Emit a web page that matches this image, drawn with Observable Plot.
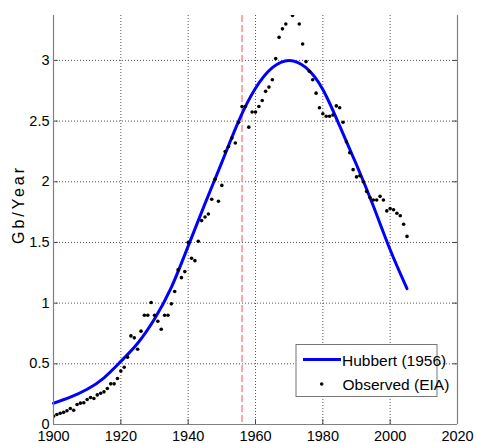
<!DOCTYPE html>
<html><head><meta charset="utf-8">
<script src="https://cdn.jsdelivr.net/npm/d3@7"></script>
<script src="https://cdn.jsdelivr.net/npm/@observablehq/plot@0.6"></script>
<style>body{margin:0;background:#fff} #chart svg{display:block}</style>
</head><body><div id="chart"></div>
<script>
// Observed (EIA) production, Gb/year, one value per year starting 1900
const obsStartYear = 1900;
const obsValues = [
  0.069, 0.082, 0.093, 0.100, 0.113, 0.132, 0.118, 0.165, 0.176, 0.179, // 1900-1909
  0.206, 0.222, 0.214, 0.244, 0.258, 0.269, 0.297, 0.335, 0.335, 0.379, // 1910-1919
  0.440, 0.472, 0.555, 0.730, 0.714, 0.620, 0.769, 0.900, 0.900, 1.005, // 1920-1929
  0.900, 0.851, 0.785, 0.900, 0.900, 0.994, 1.096, 1.274, 1.210, 1.260, // 1930-1939
  1.500, 1.370, 1.350, 1.510, 1.680, 1.710, 1.735, 1.856, 2.020, 1.840, // 1940-1949
  1.970, 2.250, 2.290, 2.360, 2.320, 2.490, 2.620, 2.620, 2.450, 2.575, // 1950-1959
  2.575, 2.620, 2.670, 2.745, 2.780, 2.840, 3.015, 3.190, 3.260, 3.300, // 1960-1969
  3.520, 3.370, 3.460, 3.300, 3.135, 2.990, 2.910, 2.840, 2.730, 2.610, // 1970-1979
  2.560, 2.540, 2.540, 2.550, 2.625, 2.610, 2.490, 2.330, 2.240, 2.100, // 1980-1989
  2.040, 2.050, 2.000, 1.920, 1.870, 1.850, 1.850, 1.880, 1.850, 1.760, // 1990-1999
  1.780, 1.770, 1.740, 1.720, 1.650, 1.550                              // 2000-2005
];
// Hubbert (1956) curve, read every 5 years
const hubYears  = [1900, 1905, 1910, 1915, 1920, 1925, 1930, 1935, 1940, 1945, 1950,
                   1955, 1960, 1965, 1970, 1975, 1980, 1985, 1990, 1995, 2000, 2005];
const hubValues = [0.175, 0.225, 0.29, 0.385, 0.52, 0.67, 0.87, 1.13, 1.47, 1.82, 2.16,
                   2.50, 2.77, 2.94, 3.00, 2.94, 2.76, 2.46, 2.14, 1.80, 1.44, 1.12];
const markerYear = 1956;
const xTicks = [1900, 1920, 1940, 1960, 1980, 2000, 2020];
const yTicks = [0, 0.5, 1, 1.5, 2, 2.5, 3];
const yTickLabels = ["0", "0.5", "1", "1.5", "2", "2.5", "3"];
const seriesNames = ["Hubbert (1956)", "Observed (EIA)"];
const yLabel = "Gb/Year";

const obs = obsValues.map((v, i) => ({year: obsStartYear + i, value: v}));
const hub = hubYears.map((y, i) => ({year: y, value: hubValues[i]}));

const font = "'Liberation Sans', Arial, Helvetica, sans-serif";
const gridStyle = {stroke: "#555", strokeWidth: 1, strokeDasharray: "1,2"};
const axisColor = "#808080";

const chart = Plot.plot({
  width: 477, height: 443,
  marginLeft: 53, marginRight: 20, marginTop: 15, marginBottom: 19,
  style: {fontFamily: font, fontSize: "14.5px", color: "#000", background: "#fff", overflow: "visible"},
  x: {domain: [1900, 2020], ticks: xTicks, tickFormat: d => String(d), tickSize: 0, tickPadding: 6, label: null},
  y: {domain: [0, 3.37], ticks: yTicks, tickFormat: d => yTickLabels[yTicks.indexOf(d)], tickSize: 0, tickPadding: 4, label: null},
  marks: [
    Plot.ruleX(xTicks.slice(1, -1), gridStyle),
    Plot.ruleY(yTicks.slice(1), gridStyle),
    Plot.ruleX([markerYear], {stroke: "#ff8a8a", strokeWidth: 1.5, strokeDasharray: "7,3"}),
    Plot.line(hub, {x: "year", y: "value", stroke: "#0000ff", strokeWidth: 3, curve: "natural"}),
    Plot.dot(obs, {x: "year", y: "value", r: 1.8, fill: "#000", stroke: "none", clip: true}),
    Plot.ruleX(xTicks.slice(1, -1), {y1: 0, y2: 0.04, stroke: "#444"}),
    Plot.ruleY(yTicks.slice(1), {x1: 1900, x2: 1901.4, stroke: "#444"}),
    Plot.ruleY(yTicks.slice(1), {x1: 2018.6, x2: 2020, stroke: "#444"}),
    Plot.ruleX([1900, 2020], {stroke: axisColor, strokeWidth: 1.2}),
    Plot.ruleY([0], {stroke: axisColor, strokeWidth: 1.2})
  ]
});
document.getElementById("chart").appendChild(chart);

const svg = d3.select(chart);
// y-axis label
svg.append("text")
  .attr("transform", "translate(20,204.5) rotate(-90)")
  .attr("text-anchor", "middle")
  .attr("dominant-baseline", "middle")
  .attr("font-family", font)
  .attr("font-size", 16)
  .attr("letter-spacing", "3px")
  .attr("fill", "#000")
  .text(yLabel);

// legend
const lg = svg.append("g").attr("font-family", font).attr("font-size", 15.5)
  .attr("fill", "#000").attr("text-anchor", "start");
lg.append("rect").attr("x", 296).attr("y", 344.5).attr("width", 141).attr("height", 52)
  .attr("fill", "#fff").attr("stroke", "#777").attr("stroke-width", 1);
lg.append("line").attr("x1", 303).attr("x2", 341).attr("y1", 359.5).attr("y2", 359.5)
  .attr("stroke", "#0000ff").attr("stroke-width", 3);
lg.append("text").attr("x", 342).attr("y", 361.5).attr("dominant-baseline", "middle")
  .attr("text-anchor", "start").text(seriesNames[0]);
lg.append("circle").attr("cx", 321.7).attr("cy", 384).attr("r", 1.8).attr("fill", "#000");
lg.append("text").attr("x", 342.5).attr("y", 385.5).attr("dominant-baseline", "middle")
  .attr("text-anchor", "start").text(seriesNames[1]);
</script>
</body></html>
